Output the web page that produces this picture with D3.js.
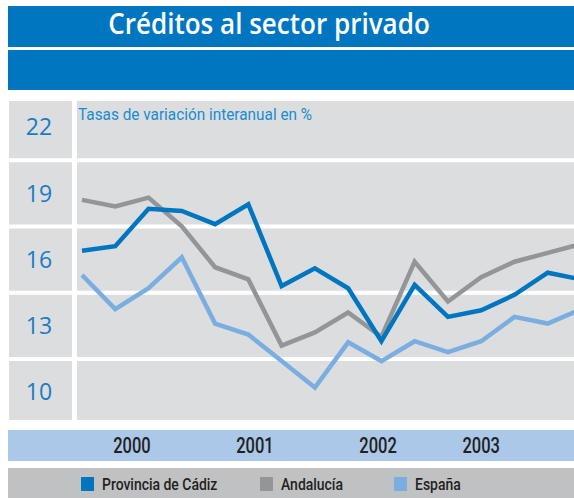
<!DOCTYPE html>
<html lang="es">
<head>
<meta charset="utf-8">
<script src="https://d3js.org/d3.v7.min.js"></script>
<style type="text/css">
body { margin: 0; background: #fff; }
.line { fill: none; stroke-width: 4.5; stroke-linejoin: miter; }
.ylab { font: 400 23px "Open Sans", sans-serif; fill: #1a7cc4; }
.year { font: 500 22px Roboto, sans-serif; fill: #231f20; }
.leg { font: 500 17px Roboto, sans-serif; fill: #231f20; }
</style>
<title>Créditos al sector privado</title>
</head>
<body>
<script type="text/javascript">
// trimestres, del IV-1999 al III-2003
var periods = ["IV-99","I-00","II-00","III-00","IV-00","I-01","II-01","III-01","IV-01",
               "I-02","II-02","III-02","IV-02","I-03","II-03","III-03"];
var cadiz     = [16.4, 16.6, 18.3, 18.2, 17.6, 18.5, 14.8, 15.6, 14.7, 12.3, 14.85, 13.4, 13.7, 14.4, 15.4, 15.1];
var andalucia = [18.7, 18.4, 18.8, 17.5, 15.65, 15.1, 12.1, 12.7, 13.6, 12.5, 15.9, 14.1, 15.2, 15.9, 16.3, 16.7];
var espana    = [15.3, 13.75, 14.7, 16.1, 13.1, 12.6, 11.4, 10.2, 12.25, 11.4, 12.3, 11.8, 12.3, 13.4, 13.1, 13.75];
var yTicks = [10, 13, 16, 19, 22];
var years = ["2000", "2001", "2002", "2003"];
var yearAt = [1.5, 5.2, 8.9, 12];   // posicion de la etiqueta, en trimestres
var seriesNames = ["Provincia de Cádiz", "Andalucía", "España"];

var colors = ["#0076c0", "#939598", "#7aaee0"];
var W = 574, H = 498;

// letra estrecha: comprime el texto a una fraccion de su ancho
function condense(sel, f) {
  sel.each(function() {
    var w = this.getComputedTextLength();
    d3.select(this).attr("textLength", w * f).attr("lengthAdjust", "spacingAndGlyphs");
  });
}

var svg = d3.select("body").append("svg")
    .attr("width", W).attr("height", H);

// cabecera
svg.append("rect").attr("x", 8).attr("y", 6).attr("width", W - 8).attr("height", 41).attr("fill", "#0076c0");
svg.append("rect").attr("x", 8).attr("y", 50).attr("width", W - 8).attr("height", 40).attr("fill", "#0076c0");
svg.append("text")
    .attr("x", 269).attr("y", 34)
    .attr("text-anchor", "middle")
    .style("font", "600 28px 'Open Sans', sans-serif")
    .style("fill", "#fff")
    .text("Créditos al sector privado")
    .call(condense, 0.93);

// zona del grafico
var pTop = 101, pBottom = 420, pLeft = 77;
svg.append("rect").attr("x", 9).attr("y", pTop).attr("width", W - 9).attr("height", pBottom - pTop).attr("fill", "#dcdddf");

var x = d3.scaleLinear().domain([0, periods.length - 1]).range([82, 581]);
var y = d3.scaleLinear().domain([10, 22]).range([392, 127]);

// lineas blancas entre las bandas
var gridVals = yTicks.slice(1).map(function(t) { return t - 1.5; });
svg.selectAll(".grid").data(gridVals).enter().append("line")
    .attr("x1", 9).attr("x2", W)
    .attr("y1", function(d) { return y(d); }).attr("y2", function(d) { return y(d); })
    .attr("stroke", "#fff").attr("stroke-width", 4);
svg.append("line").attr("x1", 74.5).attr("x2", 74.5).attr("y1", pTop).attr("y2", pBottom)
    .attr("stroke", "#fff").attr("stroke-width", 5);

svg.selectAll(".ylab").data(yTicks).enter().append("text")
    .attr("class", "ylab")
    .attr("x", 39).attr("y", function(d) { return y(d); })
    .attr("dy", "0.36em")
    .attr("text-anchor", "middle")
    .text(function(d) { return d; });

svg.append("text")
    .attr("x", 78).attr("y", 120)
    .style("font", "16.5px Roboto, sans-serif")
    .style("fill", "#1a8ccf")
    .text("Tasas de variación interanual en %")
    .call(condense, 0.93);

svg.append("clipPath").attr("id", "clip")
  .append("rect").attr("x", pLeft).attr("y", pTop).attr("width", W - pLeft).attr("height", pBottom - pTop);

var line = d3.line()
    .x(function(d, i) { return x(i); })
    .y(function(d) { return y(d); });

var g = svg.append("g").attr("clip-path", "url(#clip)");
[espana, andalucia, cadiz].forEach(function(s) {
  var k = s === cadiz ? 0 : (s === andalucia ? 1 : 2);
  g.append("path").datum(s)
    .attr("class", "line")
    .attr("stroke", colors[k])
    .attr("d", line);
});

// eje de años
svg.append("rect").attr("x", 8).attr("y", 430).attr("width", W - 8).attr("height", 31).attr("fill", "#abc8e8");
svg.selectAll(".year").data(years).enter().append("text")
    .attr("class", "year")
    .attr("x", function(d, i) { return x(yearAt[i]); })
    .attr("y", 453)
    .attr("text-anchor", "middle")
    .text(function(d) { return d; })
    .call(condense, 0.75);

// leyenda
svg.append("rect").attr("x", 8).attr("y", 468).attr("width", W - 8).attr("height", 30).attr("fill", "#c0c1c3");
var legX = [81, 260, 394];
seriesNames.forEach(function(name, i) {
  svg.append("rect").attr("x", legX[i]).attr("y", 477).attr("width", 13).attr("height", 14).attr("fill", colors[i]);
  svg.append("text").attr("class", "leg")
    .attr("x", legX[i] + 21).attr("y", 490)
    .text(name)
    .call(condense, 0.82);
});
</script>
</body>
</html>
